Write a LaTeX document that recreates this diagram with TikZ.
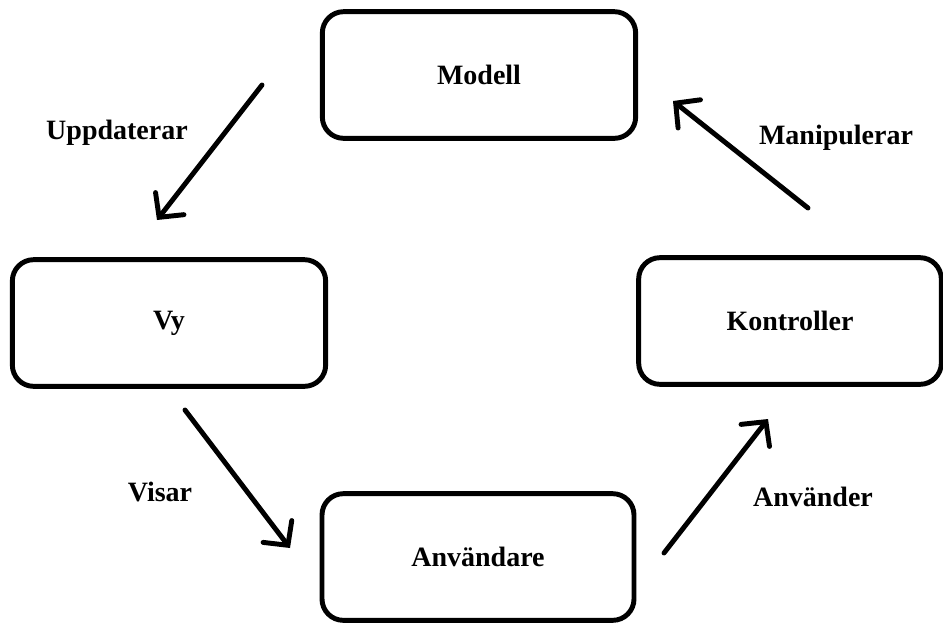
\documentclass[tikz,border=0pt]{standalone}
\usepackage{fontspec}
\setmainfont{Liberation Serif}
\usetikzlibrary{arrows.meta}

\begin{document}
\begin{tikzpicture}[x=0.75pt,y=-0.75pt,
    box/.style={draw,line width=3.7pt,rounded corners=16pt,minimum height=95pt,
        font=\fontsize{21}{25}\selectfont\bfseries},
    flow/.style={line width=3.7pt,line cap=round,
        -{Straight Barb[length=13pt,width=27pt,line cap=round]}},
    lbl/.style={font=\fontsize{21}{25}\selectfont\bfseries}]

    % Canvas
    \useasboundingbox (0,0) rectangle (943,626);

    % Boxes
    \node[box,minimum width=235pt] (modell) at (479,75) {Modell};
    \node[box,minimum width=235pt] (vy) at (169,323) {Vy};
    \node[box,minimum width=227pt] (kontroller) at (790,321) {Kontroller};
    \node[box,minimum width=234pt] (anvandare) at (478,557) {Användare};

    % Arrow ends
    \coordinate (uppS) at (262,85);  \coordinate (uppT) at (157,220);
    \coordinate (visS) at (185,410); \coordinate (visT) at (290,548);
    \coordinate (anvS) at (664,553); \coordinate (anvT) at (768,419);
    \coordinate (manS) at (808,208); \coordinate (manT) at (673,101);

    \draw[flow] (uppS) -- (uppT);
    \draw[flow] (visS) -- (visT);
    \draw[flow] (anvS) -- (anvT);
    \draw[flow] (manS) -- (manT);

    % Labels
    \node[lbl] (uppdaterar) at (117,133) {Uppdaterar};
    \node[lbl] (visar) at (160,492) {Visar};
    \node[lbl] (anvander) at (813,497) {Använder};
    \node[lbl] (manipulerar) at (836,138) {Manipulerar};
\end{tikzpicture}
\end{document}
